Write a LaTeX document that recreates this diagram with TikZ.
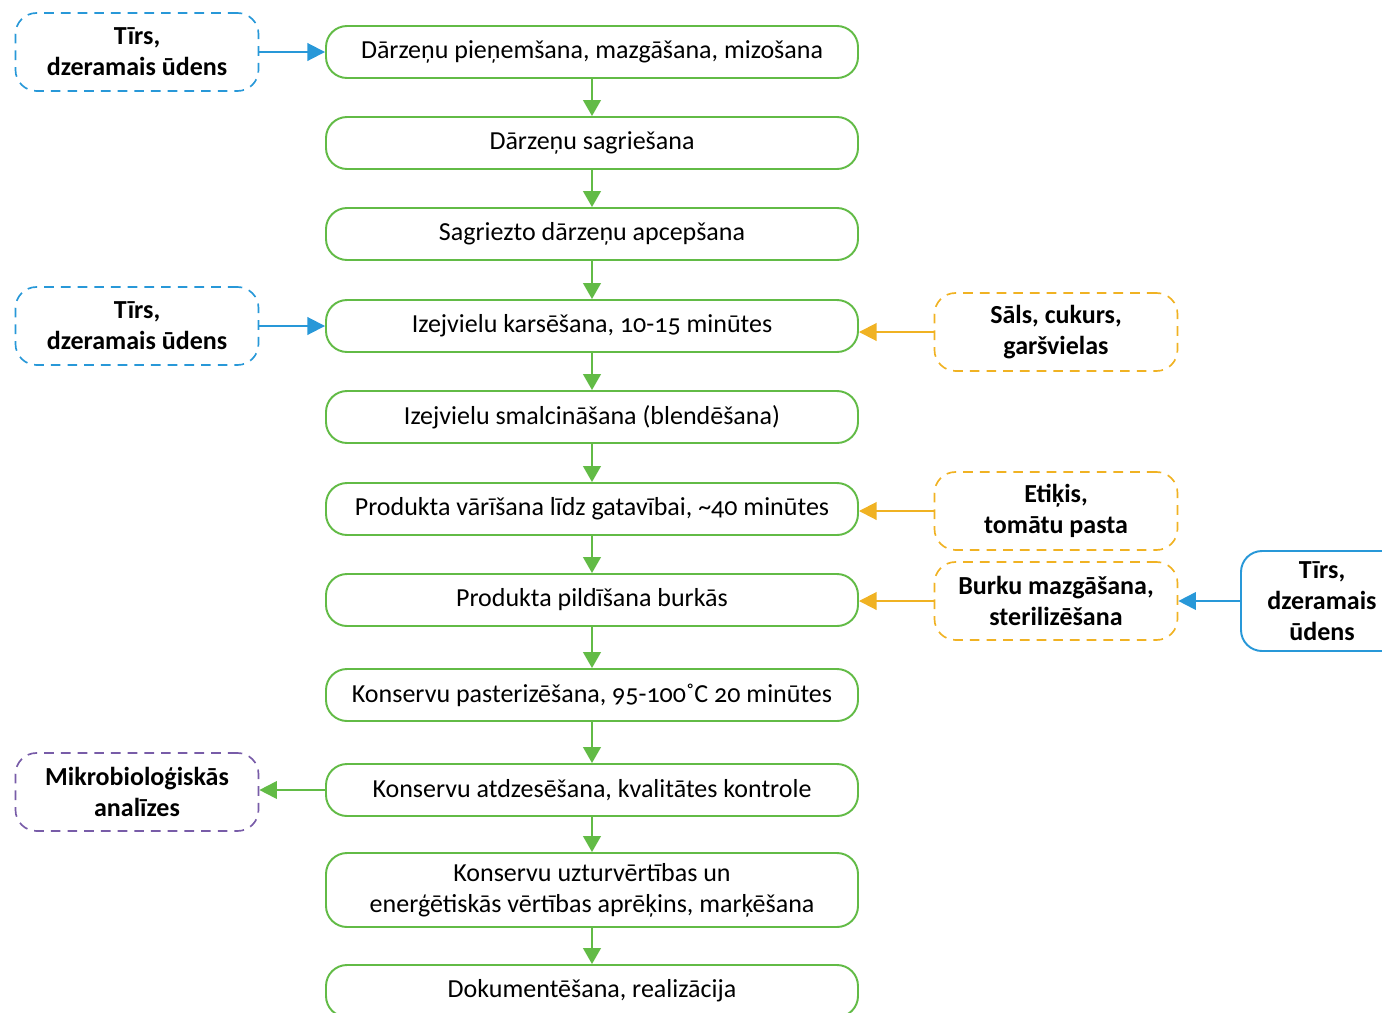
\documentclass[tikz,border=0pt]{standalone}
\usepackage{fontspec}
\setmainfont{Carlito}[Numbers=OldStyle]
\usetikzlibrary{arrows.meta}
\definecolor{stepgreen}{RGB}{98,187,70}
\definecolor{waterblue}{RGB}{40,152,216}
\definecolor{addorange}{RGB}{240,178,35}
\definecolor{labpurple}{RGB}{120,92,168}

\begin{document}
\begin{tikzpicture}[
  font=\fontsize{14.8}{17.5}\selectfont,
  stepbox/.style={draw=stepgreen, line width=1.1pt, rounded corners=0.42cm,
    minimum width=10.64cm, minimum height=1.04cm, align=center, inner sep=2pt},
  inbox/.style={dashed, dash pattern=on 5.5pt off 4pt, line width=0.95pt,
    rounded corners=0.42cm, minimum width=4.86cm, minimum height=1.56cm,
    align=center, font=\fontsize{14.8}{17.5}\selectfont\bfseries},
  flow/.style={draw=stepgreen, line width=1.1pt, -{Triangle[length=9pt,width=10pt]}},
  feed/.style={line width=1.1pt, -{Triangle[length=10pt,width=10pt]}}
]
\useasboundingbox (0,0) rectangle (27.64,-20.26);

\node[stepbox] (s1) at (11.84,-1.04) {Dārzeņu pieņemšana, mazgāšana, mizošana};
\node[stepbox] (s2) at (11.84,-2.86) {Dārzeņu sagriešana};
\node[stepbox] (s3) at (11.84,-4.68) {Sagriezto dārzeņu apcepšana};
\node[stepbox] (s4) at (11.84,-6.52) {Izejvielu karsēšana, 10-15 minūtes};
\node[stepbox] (s5) at (11.84,-8.34) {Izejvielu smalcināšana (blendēšana)};
\node[stepbox] (s6) at (11.84,-10.18) {Produkta vārīšana līdz gatavībai, \textasciitilde40 minūtes};
\node[stepbox] (s7) at (11.84,-12.0) {Produkta pildīšana burkās};
\node[stepbox] (s8) at (11.84,-13.9) {Konservu pasterizēšana, 95-100˚C 20 minūtes};
\node[stepbox] (s9) at (11.84,-15.8) {Konservu atdzesēšana, kvalitātes kontrole};
\node[stepbox, minimum height=1.48cm] (s10) at (11.84,-17.8) {Konservu uzturvērtības un\\enerģētiskās vērtības aprēķins, marķēšana};
\node[stepbox] (s11) at (11.84,-19.82) {Dokumentēšana, realizācija};

\node[inbox, draw=waterblue] (w1) at (2.74,-1.04) {Tīrs,\\dzeramais ūdens};
\node[inbox, draw=waterblue] (w2) at (2.74,-6.52) {Tīrs,\\dzeramais ūdens};
\node[inbox, draw=labpurple] (lab) at (2.74,-15.84) {Mikrobioloģiskās\\analīzes};

\node[inbox, draw=addorange] (a1) at (21.12,-6.64) {Sāls, cukurs,\\garšvielas};
\node[inbox, draw=addorange] (a2) at (21.12,-10.22) {Etiķis,\\tomātu pasta};
\node[inbox, draw=addorange] (a3) at (21.12,-12.02) {Burku mazgāšana,\\sterilizēšana};

\node[draw=waterblue, line width=1.1pt, rounded corners=0.42cm, minimum width=3.24cm,
  minimum height=2cm, align=center, font=\fontsize{14.8}{17.5}\selectfont\bfseries]
  (w3) at (26.44,-12.02) {Tīrs,\\dzeramais\\ūdens};

\foreach \a/\b in {s1/s2,s2/s3,s3/s4,s4/s5,s5/s6,s6/s7,s7/s8,s8/s9,s9/s10,s10/s11}
  \draw[flow] (\a) -- (\b);

\draw[feed, waterblue] (w1) -- (s1);
\draw[feed, waterblue] (w2) -- (s4);
\draw[feed, addorange] (a1.west) -- (a1.west -| s4.east);
\draw[feed, addorange] (a2.west) -- (a2.west -| s6.east);
\draw[feed, addorange] (a3.west) -- (a3.west -| s7.east);
\draw[feed, waterblue] (w3) -- (a3);
\draw[feed, stepgreen] (s9.west) -- (s9.west -| lab.east);
\end{tikzpicture}
\end{document}
